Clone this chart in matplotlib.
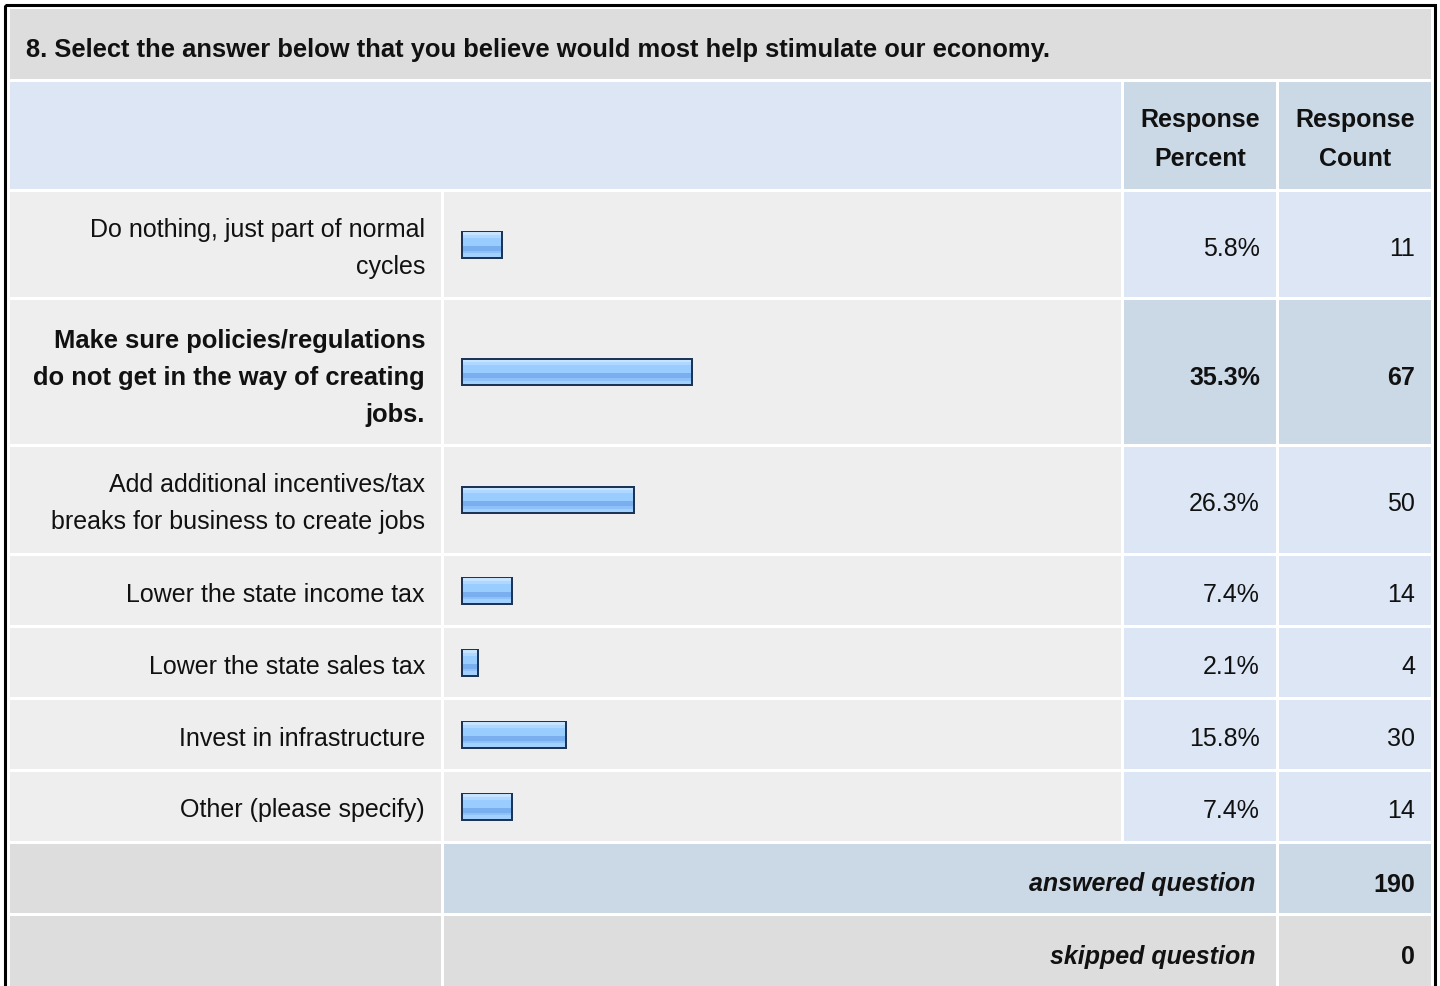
import matplotlib
matplotlib.use("Agg")
import matplotlib.pyplot as plt
from matplotlib.patches import Rectangle

# ---------------- data ----------------
question = "8. Select the answer below that you believe would most help stimulate our economy."
header_percent = ["Response", "Percent"]
header_count = ["Response", "Count"]
answers = [
    ["Do nothing, just part of normal", "cycles"],
    ["Make sure policies/regulations", "do not get in the way of creating", "jobs."],
    ["Add additional incentives/tax", "breaks for business to create jobs"],
    ["Lower the state income tax"],
    ["Lower the state sales tax"],
    ["Invest in infrastructure"],
    ["Other (please specify)"],
]
percents = [5.8, 35.3, 26.3, 7.4, 2.1, 15.8, 7.4]
counts = [11, 67, 50, 14, 4, 30, 14]
answered = 190
skipped = 0

# ---------------- layout (pixels) ----------------
W, H = 1440, 987
FONT = ["Liberation Sans", "DejaVu Sans"]
FS = 18
FS_BOLD_LONG = 18.4
DY = 3
col_label = (10, 441)
col_bar = (444, 1121)
col_pct = (1124, 1276)
col_cnt = (1279, 1431)
title_row = (10, 80)
header_row = (83, 190)
row_bounds = [(193, 298), (301, 445), (448, 554), (557, 626),
              (629, 698), (701, 770), (773, 842)]
answered_row = (845, 914)
skipped_row = (917, 990)
line_gap = 37

GRAY = "#DDDDDD"
ROWBG = "#EEEEEE"
LBLUE = "#DCE6F4"
DBLUE = "#CBD8E6"
TXT = "#111111"

fig = plt.figure(figsize=(W / 100, H / 100), dpi=100)
fig.patch.set_facecolor("white")
ax = fig.add_axes([0, 0, 1, 1])
ax.set_xlim(0, W)
ax.set_ylim(H, 0)
ax.axis("off")


def cell(x, y, color):
    ax.add_patch(Rectangle((x[0], y[0]), x[1] - x[0], y[1] - y[0],
                           facecolor=color, edgecolor="none", zorder=1))


def txt(x, y, s, ha, weight="normal", style="normal", size=FS):
    ax.text(x, y + DY, s, fontsize=size, fontweight=weight, style=style,
            family=FONT, ha=ha, va="center", color=TXT, zorder=6)


# outer black frame
ax.add_patch(Rectangle((5, 5.5), 1429.5, 1000, facecolor="none",
                       edgecolor="black", linewidth=2.2, zorder=5))

# title
cell((col_label[0], col_cnt[1]), title_row, GRAY)
txt(26, sum(title_row) / 2 + 2, question, "left", "bold", size=FS_BOLD_LONG)

# header
cell((col_label[0], col_bar[1]), header_row, LBLUE)
cell(col_pct, header_row, DBLUE)
cell(col_cnt, header_row, DBLUE)
hc = sum(header_row) / 2
for col, lines in ((col_pct, header_percent), (col_cnt, header_count)):
    for i, t in enumerate(lines):
        txt(sum(col) / 2, hc + (i - (len(lines) - 1) / 2) * 38, t, "center", "bold")

# rows
top_idx = percents.index(max(percents))
px_per_pct = 6.44
border_px = 4.6
bar_left = 461
bar_h = 28
bands = [(0.00, 0.10, "#C6E3FF"), (0.10, 0.22, "#AFD7FF"),
         (0.22, 0.56, "#99CCFF"), (0.56, 0.76, "#79AFEE"),
         (0.76, 0.88, "#8DC1F8"), (0.88, 1.00, "#A2D0FF")]

for i, (lab, p, c, rb) in enumerate(zip(answers, percents, counts, row_bounds)):
    hi = (i == top_idx)
    cell(col_label, rb, ROWBG)
    cell(col_bar, rb, ROWBG)
    cell(col_pct, rb, DBLUE if hi else LBLUE)
    cell(col_cnt, rb, DBLUE if hi else LBLUE)
    cy = sum(rb) / 2
    ty = cy + (2 if hi else 0)
    wt = "bold" if hi else "normal"
    n = len(lab)
    for k, t in enumerate(lab):
        txt(425, ty + (k - (n - 1) / 2) * line_gap, t, "right", wt,
            size=FS_BOLD_LONG if hi else FS)
    txt(1260, ty, f"{p:.1f}%", "right", wt)
    txt(1415, ty, f"{c}", "right", wt)
    # bar: dark outer, banded inner
    w = border_px + p * px_per_pct
    ax.barh([cy], [w], left=bar_left, height=bar_h, color="#1C3557",
            edgecolor="none", zorder=3)
    inner_h = bar_h - 4
    for f0, f1, colr in bands:
        ax.barh([cy - inner_h / 2 + (f0 + f1) / 2 * inner_h], [w - 4],
                left=bar_left + 2, height=(f1 - f0) * inner_h + 0.3,
                color=colr, edgecolor="none", zorder=4)

# answered / skipped
cell(col_label, answered_row, GRAY)
cell((col_bar[0], col_pct[1]), answered_row, DBLUE)
cell(col_cnt, answered_row, DBLUE)
cell(col_label, skipped_row, GRAY)
cell((col_bar[0], col_pct[1]), skipped_row, GRAY)
cell(col_cnt, skipped_row, GRAY)
for cy, label, val in ((sum(answered_row) / 2 + 2, "answered question", answered),
                       (954, "skipped question", skipped)):
    txt(1255, cy, label, "right", "bold", "italic")
    txt(1415, cy, f"{val}", "right", "bold")

fig.savefig("out.png", dpi=100, facecolor="white")
